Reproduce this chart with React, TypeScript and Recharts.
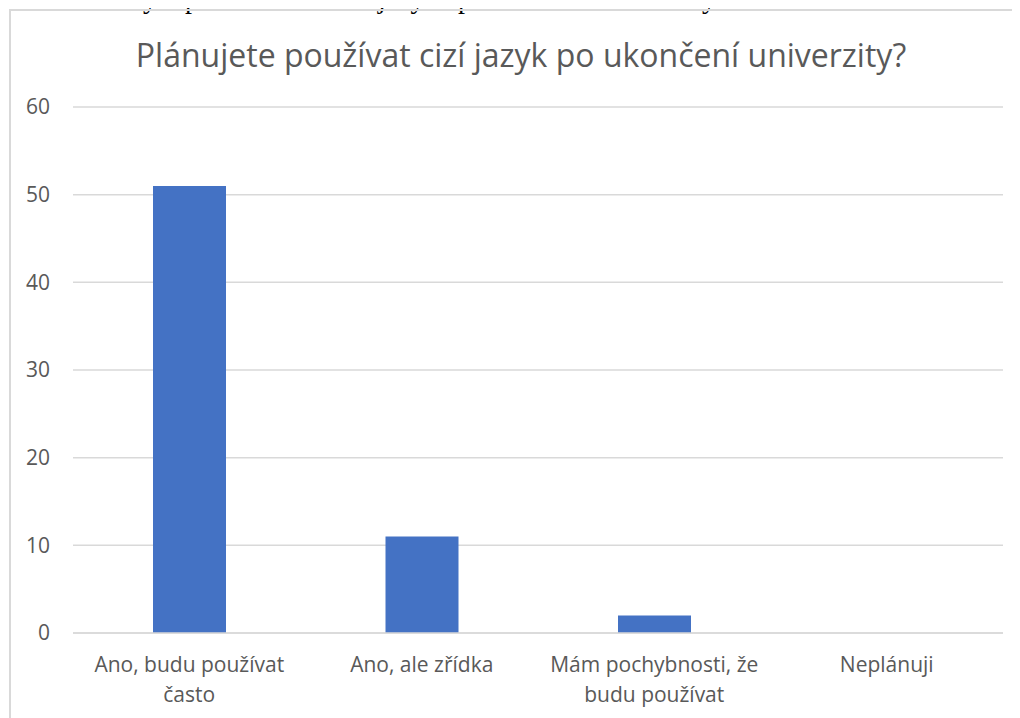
import React from 'react';
import { BarChart, Bar, XAxis, YAxis, CartesianGrid } from 'recharts';

const categories = [
  'Ano, budu používat často',
  'Ano, ale zřídka',
  'Mám pochybnosti, že budu používat',
  'Neplánuji',
];
const answers = [51, 11, 2, 0];
const yTicks = [0, 10, 20, 30, 40, 50, 60];

const data = categories.map((name, i) => ({ name, value: answers[i] }));

const FONT = '"Open Sans", Lato, sans-serif';
const GREY = '#595959';

// greedy word wrap, like the office chart does for long category names
const wrap = (label: string, maxChars: number) => {
  const lines: string[] = [];
  let cur = '';
  label.split(' ').forEach((w) => {
    const next = cur ? cur + ' ' + w : w;
    if (next.length > maxChars && cur) {
      lines.push(cur);
      cur = w;
    } else {
      cur = next;
    }
  });
  if (cur) lines.push(cur);
  return lines;
};

const CategoryTick = (props: any) => {
  const { x, y, payload } = props;
  const lines = wrap(payload.value, 19);
  return (
    <text x={x} y={y} textAnchor='middle' fontSize={21} fontFamily={FONT} fill={GREY}>
      {lines.map((line, i) => (
        <tspan key={i} x={x} dy={i === 0 ? 15 : 30}>
          {line}
        </tspan>
      ))}
    </text>
  );
};

const App: React.FC = () => {
  return (
    <div style={{ position: 'relative', width: 1020, height: 718, margin: '-8px 0 0 -8px', overflow: 'hidden', background: '#fff' }}>
      {/* caption of the document, cut by the top edge */}
      <div
        style={{
          position: 'absolute',
          left: 0,
          top: -17,
          fontFamily: '"Liberation Serif", "Times New Roman", serif',
          fontSize: 28,
          color: '#000',
          whiteSpace: 'nowrap',
        }}
      >
        Graf 13 Plány v používání cizího jazyka po ukončení univerzity
      </div>
      <div
        style={{
          position: 'absolute',
          left: 9,
          top: 9,
          width: 1030,
          height: 730,
          border: '2px solid #d9d9d9',
          boxSizing: 'border-box',
        }}
      />
      <div
        style={{
          position: 'absolute',
          left: 0,
          top: 33,
          width: 1042,
          textAlign: 'center',
          fontFamily: FONT,
          fontSize: 32,
          color: GREY,
          whiteSpace: 'nowrap',
        }}
      >
        Plánujete používat cizí jazyk po ukončení univerzity?
      </div>
      <div style={{ position: 'absolute', left: 0, top: 0 }}>
        <BarChart width={1020} height={718} data={data} margin={{ top: 107, right: 17, bottom: 0, left: 0 }}>
          <CartesianGrid vertical={false} stroke='#d9d9d9' strokeWidth={1.5} />
          <XAxis
            dataKey='name'
            height={85}
            axisLine={{ stroke: '#d9d9d9', strokeWidth: 1.5 }}
            tickLine={false}
            tickSize={0}
            tickMargin={24}
            interval={0}
            tick={<CategoryTick />}
          />
          <YAxis
            width={73}
            domain={[0, 60]}
            ticks={yTicks}
            axisLine={false}
            tickLine={false}
            tickSize={0}
            tickMargin={23}
            tick={{ fill: GREY, fontSize: 21, fontFamily: FONT }}
          />
          <Bar dataKey='value' fill='#4472C4' barSize={73} isAnimationActive={false} />
        </BarChart>
      </div>
    </div>
  );
};

export default App;
